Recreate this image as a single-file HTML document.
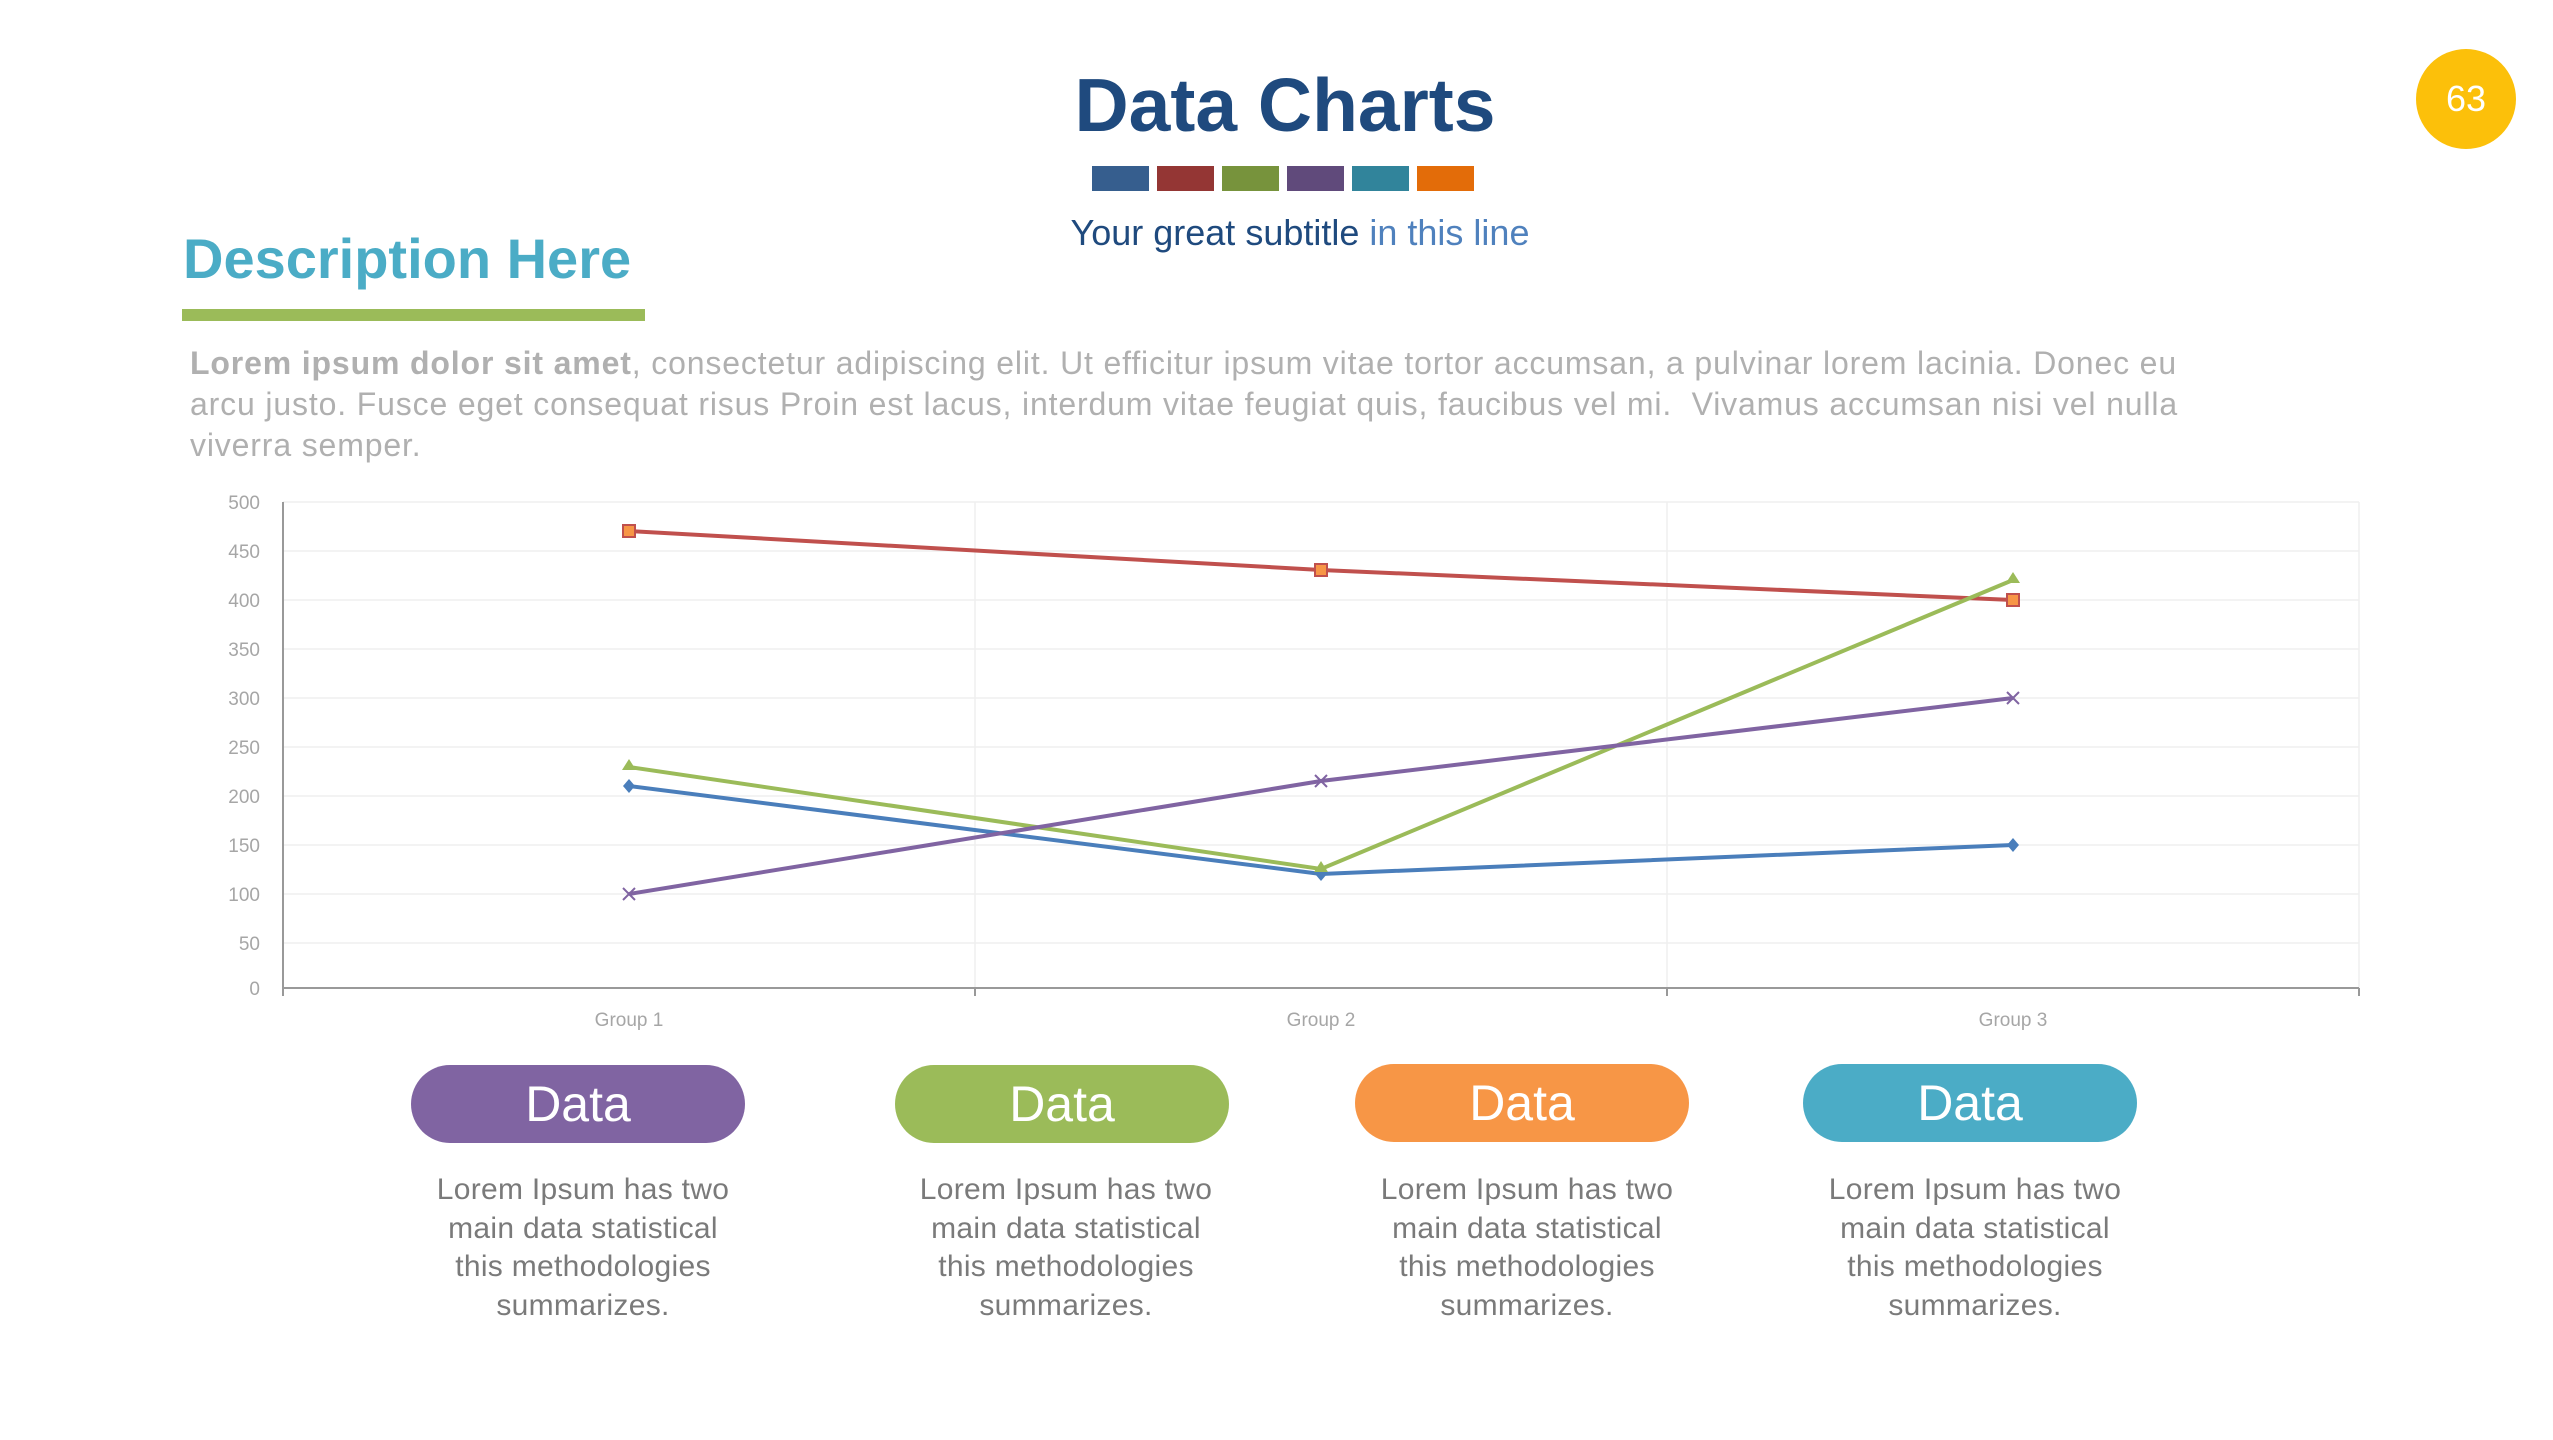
<!DOCTYPE html>
<html><head><meta charset="utf-8"><style>
body{margin:0;width:2553px;height:1440px;background:#fff;position:relative;overflow:hidden;font-family:"Liberation Sans",sans-serif}
.a{position:absolute}
.pill{position:absolute;width:334px;height:78px;border-radius:39px;color:#fff;font-size:50px;text-align:center;line-height:78px}
.txt{position:absolute;width:400px;text-align:center;color:#7a7a7a;font-size:30px;line-height:38.5px;white-space:nowrap;letter-spacing:0.3px}
</style></head><body>
<div class="a" style="left:0;width:2570px;top:62px;text-align:center;font-size:75px;font-weight:bold;color:#1f4a7e">Data Charts</div>
<div class="a" style="left:1092px;top:166px;height:25px;width:385px;display:flex;gap:8px">
<div style="width:57px;background:#365e8e"></div><div style="width:57px;background:#943634"></div><div style="width:57px;background:#77933c"></div><div style="width:57px;background:#604a7b"></div><div style="width:57px;background:#31849b"></div><div style="width:57px;background:#e36c09"></div></div>
<div class="a" style="left:0;width:2600px;top:212px;text-align:center;font-size:36px;color:#1f4a7e">Your great subtitle <span style="color:#4f81bd">in this line</span></div>
<div class="a" style="left:2416px;top:49px;width:100px;height:100px;border-radius:50%;background:#fcc00a;color:#fff;font-size:36px;text-align:center;line-height:100px">63</div>
<div class="a" style="left:183px;top:226px;font-size:56px;font-weight:bold;color:#4bacc6">Description Here</div>
<div class="a" style="left:182px;top:309px;width:463px;height:12px;background:#9bbb59"></div>
<div class="a" style="left:190px;top:343px;font-size:32px;line-height:41px;color:#b0b0b0;white-space:nowrap;letter-spacing:0.85px"><b>Lorem ipsum dolor sit amet</b>, consectetur adipiscing elit. Ut efficitur ipsum vitae tortor accumsan, a pulvinar lorem lacinia. Donec eu<br>arcu justo. Fusce eget consequat risus Proin est lacus, interdum vitae feugiat quis, faucibus vel mi.&nbsp; Vivamus accumsan nisi vel nulla<br>viverra semper.</div>
<svg class="a" style="left:0;top:0" width="2553" height="1440">
<g stroke="#efefef" stroke-width="1.5">
<line x1="283" x2="2359" y1="502" y2="502"/><line x1="283" x2="2359" y1="551" y2="551"/><line x1="283" x2="2359" y1="600" y2="600"/><line x1="283" x2="2359" y1="649" y2="649"/><line x1="283" x2="2359" y1="698" y2="698"/><line x1="283" x2="2359" y1="747" y2="747"/><line x1="283" x2="2359" y1="796" y2="796"/><line x1="283" x2="2359" y1="845" y2="845"/><line x1="283" x2="2359" y1="894" y2="894"/><line x1="283" x2="2359" y1="943" y2="943"/>
<line x1="975" x2="975" y1="502" y2="992"/><line x1="1667" x2="1667" y1="502" y2="992"/><line x1="2359" x2="2359" y1="502" y2="992"/>
</g>
<g stroke="#999" stroke-width="2"><line x1="283" x2="2359" y1="988" y2="988"/><line x1="283" x2="283" y1="502" y2="996"/><line x1="975" x2="975" y1="988" y2="996"/><line x1="1667" x2="1667" y1="988" y2="996"/><line x1="2359" x2="2359" y1="988" y2="996"/></g>
<g fill="#a6a6a6" font-size="19" text-anchor="end" font-family="Liberation Sans">
<text x="260" y="509">500</text><text x="260" y="558">450</text><text x="260" y="607">400</text><text x="260" y="656">350</text><text x="260" y="705">300</text><text x="260" y="754">250</text><text x="260" y="803">200</text><text x="260" y="852">150</text><text x="260" y="901">100</text><text x="260" y="950">50</text><text x="260" y="995">0</text>
</g>
<g fill="#a6a6a6" font-size="19" text-anchor="middle" font-family="Liberation Sans"><text x="629" y="1026">Group 1</text><text x="1321" y="1026">Group 2</text><text x="2013" y="1026">Group 3</text></g>
<g fill="none" stroke-width="4">
<polyline stroke="#c0504d" points="629,531 1321,570 2013,600"/>
<polyline stroke="#4a7ebb" points="629,786 1321,874 2013,845"/>
<polyline stroke="#9bbb59" points="629,767 1321,869 2013,580"/>
<polyline stroke="#8064a2" points="629,894 1321,781 2013,698"/>
</g>
<g fill="#f79646" stroke="#c0504d" stroke-width="2"><rect x="623" y="525" width="12" height="12"/><rect x="1315" y="564" width="12" height="12"/><rect x="2007" y="594" width="12" height="12"/></g>
<g fill="#4a7ebb"><path d="M629 779l6 7-6 7-6-7z"/><path d="M1321 867l6 7-6 7-6-7z"/><path d="M2013 838l6 7-6 7-6-7z"/></g>
<g fill="#9bbb59"><path d="M629 759l7 11h-14z"/><path d="M1321 861l7 11h-14z"/><path d="M2013 572l7 11h-14z"/></g>
<g stroke="#8064a2" stroke-width="2"><path d="M623 888l12 12M635 888l-12 12"/><path d="M1315 775l12 12M1327 775l-12 12"/><path d="M2007 692l12 12M2019 692l-12 12"/></g>
</svg>
<div class="pill" style="left:411px;top:1065px;background:#8064a2">Data</div>
<div class="pill" style="left:895px;top:1065px;background:#9bbb59">Data</div>
<div class="pill" style="left:1355px;top:1064px;background:#f79646">Data</div>
<div class="pill" style="left:1803px;top:1064px;background:#4bacc6">Data</div>
<div class="txt" style="left:383px;top:1171px">Lorem Ipsum has two<br>main data statistical<br>this methodologies<br>summarizes.</div>
<div class="txt" style="left:866px;top:1171px">Lorem Ipsum has two<br>main data statistical<br>this methodologies<br>summarizes.</div>
<div class="txt" style="left:1327px;top:1171px">Lorem Ipsum has two<br>main data statistical<br>this methodologies<br>summarizes.</div>
<div class="txt" style="left:1775px;top:1171px">Lorem Ipsum has two<br>main data statistical<br>this methodologies<br>summarizes.</div>
</body></html>
